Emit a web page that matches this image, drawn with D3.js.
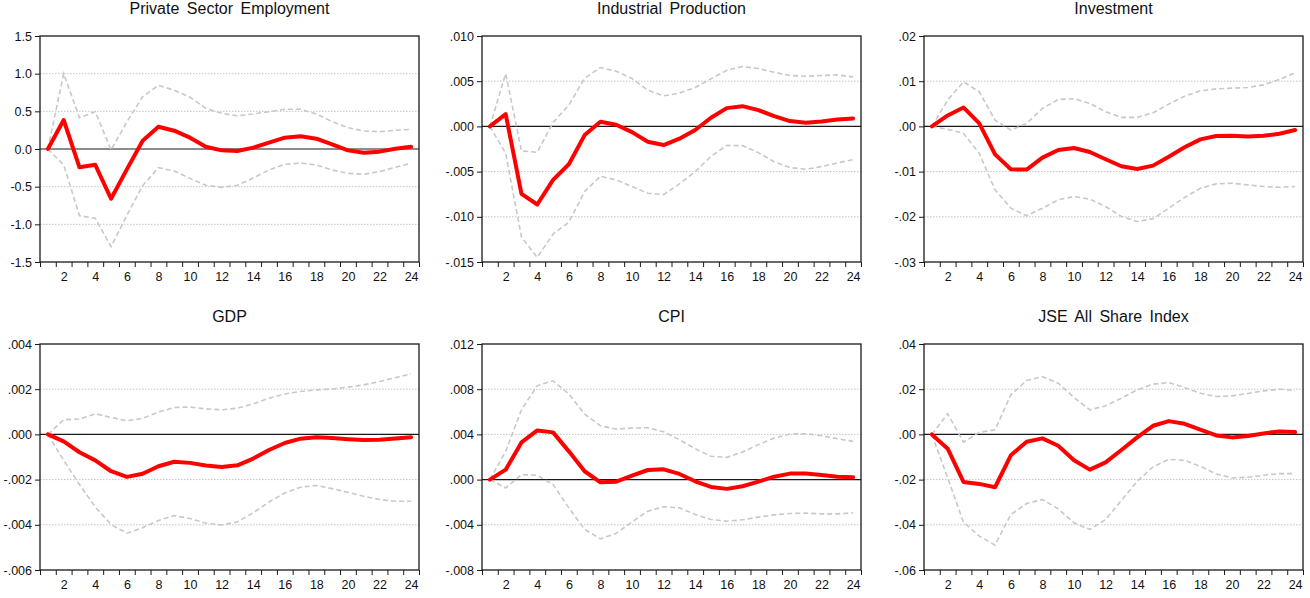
<!DOCTYPE html>
<html>
<head>
<meta charset="utf-8">
<script src="https://cdn.jsdelivr.net/npm/d3@7"></script>
<style>
  html, body { margin: 0; padding: 0; background: #fff; }
  svg { display: block; font-family: "Liberation Sans", Arial, sans-serif; }
</style>
</head>
<body>
<svg id="chart" width="1310" height="598"></svg>
<script>
// Impulse responses over 24 periods: point estimate with upper and lower bands.
const periods = d3.range(1, 25);
const xLabels = [2, 4, 6, 8, 10, 12, 14, 16, 18, 20, 22, 24];

const titles = ["Private Sector Employment", "Industrial Production", "Investment",
                "GDP", "CPI", "JSE All Share Index"];

// Private Sector Employment
const employmentIRF   = [0, 0.385, -0.243, -0.21, -0.66, -0.27, 0.11, 0.296, 0.243, 0.15, 0.03, -0.018,
                         -0.027, 0.018, 0.084, 0.15, 0.17, 0.137, 0.062, -0.018, -0.05, -0.035, 0.004, 0.03];
const employmentUpper = [0, 1.0, 0.416, 0.495, -0.013, 0.36, 0.695, 0.845, 0.78, 0.686, 0.54, 0.473,
                         0.44, 0.465, 0.495, 0.527, 0.527, 0.465, 0.363, 0.283, 0.239, 0.23, 0.248, 0.26];
const employmentLower = [0, -0.212, -0.885, -0.92, -1.296, -0.88, -0.487, -0.248, -0.292, -0.39, -0.482, -0.509,
                         -0.482, -0.385, -0.279, -0.204, -0.186, -0.212, -0.279, -0.323, -0.336, -0.3, -0.243, -0.19];
const employmentTicks = [-1.5, -1.0, -0.5, 0.0, 0.5, 1.0, 1.5];
const employmentTickLabels = ["-1.5", "-1.0", "-0.5", "0.0", "0.5", "1.0", "1.5"];

// Industrial Production
const productionIRF   = [0, 0.00136, -0.00746, -0.00864, -0.00592, -0.00419, -0.00096, 0.00051, 0.00018, -0.00063, -0.00169, -0.00206,
                         -0.00136, -0.0004, 0.00096, 0.00202, 0.00224, 0.0018, 0.00114, 0.00059, 0.0004, 0.00055, 0.00077, 0.00088];
const productionUpper = [0, 0.00585, -0.00272, -0.00287, 0.00044, 0.00235, 0.00533, 0.00651, 0.0061, 0.00529, 0.004, 0.00338,
                         0.00368, 0.0043, 0.00526, 0.00621, 0.00662, 0.0064, 0.00599, 0.00563, 0.00555, 0.00563, 0.0057, 0.00548];
const productionLower = [0, -0.00298, -0.01224, -0.01449, -0.01191, -0.01059, -0.0072, -0.00551, -0.00592, -0.00665, -0.00739, -0.00754,
                         -0.00636, -0.005, -0.00331, -0.0021, -0.00213, -0.0029, -0.0039, -0.00456, -0.00474, -0.00445, -0.00404, -0.00368];
const productionTicks = [-0.015, -0.010, -0.005, 0, 0.005, 0.010];
const productionTickLabels = ["-.015", "-.010", "-.005", ".000", ".005", ".010"];

// Investment
const investmentIRF   = [0, 0.00243, 0.00419, 0.00066, -0.00618, -0.00949, -0.00956, -0.00691, -0.00522, -0.00478, -0.00566, -0.00728,
                         -0.00882, -0.00941, -0.00868, -0.00669, -0.00463, -0.00287, -0.00213, -0.00206, -0.00221, -0.00206, -0.00162, -0.00081];
const investmentUpper = [0, 0.00581, 0.00985, 0.00765, 0.0014, -0.00081, 0.00066, 0.00397, 0.00596, 0.0061, 0.00507, 0.00324,
                         0.00199, 0.00199, 0.00301, 0.00493, 0.00669, 0.00787, 0.00831, 0.00846, 0.0086, 0.00919, 0.01037, 0.01184];
const investmentLower = [0, -0.00066, -0.00154, -0.00596, -0.01404, -0.01809, -0.01978, -0.01809, -0.01625, -0.01551, -0.0161, -0.01772,
                         -0.01993, -0.02103, -0.02044, -0.01809, -0.01574, -0.01368, -0.01272, -0.01257, -0.01294, -0.01331, -0.01346, -0.01331];
const investmentTicks = [-0.03, -0.02, -0.01, 0, 0.01, 0.02];
const investmentTickLabels = ["-.03", "-.02", "-.01", ".00", ".01", ".02"];

// GDP
const gdpIRF   = [0, -0.00031, -0.00079, -0.00115, -0.00163, -0.00188, -0.00174, -0.00141, -0.00121, -0.00126, -0.00138, -0.00144,
                  -0.00137, -0.00107, -0.00069, -0.00038, -0.00019, -0.00013, -0.00016, -0.00021, -0.00025, -0.00024, -0.00018, -0.00013];
const gdpUpper = [0, 0.00065, 0.00068, 0.00091, 0.00075, 0.0006, 0.00071, 0.00099, 0.00119, 0.00121, 0.00113, 0.00109,
                  0.00116, 0.00135, 0.0016, 0.00179, 0.0019, 0.00197, 0.00201, 0.00209, 0.00219, 0.00234, 0.00251, 0.00268];
const gdpLower = [0, -0.00115, -0.00222, -0.00321, -0.00399, -0.00437, -0.00413, -0.00381, -0.00359, -0.00372, -0.00393, -0.00401,
                  -0.00387, -0.00347, -0.00299, -0.00259, -0.00234, -0.00226, -0.0024, -0.00256, -0.00274, -0.00288, -0.00296, -0.00296];
const gdpTicks = [-0.006, -0.004, -0.002, 0, 0.002, 0.004];
const gdpTickLabels = ["-.006", "-.004", "-.002", ".000", ".002", ".004"];

// CPI
const cpiIRF   = [0, 0.00088, 0.00329, 0.00435, 0.00418, 0.0025, 0.00074, -0.00024, -0.00018, 0.00035, 0.00085, 0.00091,
                  0.0005, -0.00015, -0.00065, -0.00082, -0.00059, -0.00018, 0.00026, 0.00053, 0.00053, 0.00041, 0.00026, 0.00021];
const cpiUpper = [0, 0.0025, 0.00618, 0.00832, 0.00874, 0.00759, 0.00579, 0.00476, 0.00447, 0.00456, 0.00459, 0.00424,
                  0.00353, 0.00274, 0.00206, 0.00197, 0.00244, 0.00309, 0.00368, 0.00403, 0.00406, 0.00388, 0.00362, 0.00338];
const cpiLower = [0, -0.00074, 0.00044, 0.00038, -0.00044, -0.0025, -0.00441, -0.00524, -0.00476, -0.00374, -0.00279, -0.00241,
                  -0.0025, -0.00309, -0.00353, -0.00368, -0.00356, -0.00332, -0.00312, -0.003, -0.00297, -0.00303, -0.00303, -0.00294];
const cpiTicks = [-0.008, -0.004, 0, 0.004, 0.008, 0.012];
const cpiTickLabels = ["-.008", "-.004", ".000", ".004", ".008", ".012"];

// JSE All Share Index
const jseIRF   = [0, -0.00632, -0.02103, -0.02191, -0.02338, -0.00926, -0.00324, -0.00176, -0.005, -0.01147, -0.01559, -0.01235,
                  -0.00691, -0.00132, 0.00382, 0.00588, 0.00471, 0.00206, -0.00044, -0.00132, -0.00074, 0.00044, 0.00132, 0.00103];
const jseUpper = [0, 0.00912, -0.00338, 0.00088, 0.00206, 0.0175, 0.02382, 0.02559, 0.02265, 0.01632, 0.01088, 0.01265,
                  0.01603, 0.01971, 0.02221, 0.02294, 0.02074, 0.01824, 0.01676, 0.01706, 0.01809, 0.01926, 0.02, 0.01941];
const jseLower = [0, -0.01926, -0.03882, -0.045, -0.04897, -0.03544, -0.03059, -0.02882, -0.03294, -0.03912, -0.04206, -0.03765,
                  -0.02926, -0.02074, -0.01441, -0.01103, -0.01147, -0.01412, -0.0175, -0.01926, -0.01897, -0.01809, -0.01735, -0.01735];
const jseTicks = [-0.06, -0.04, -0.02, 0, 0.02, 0.04];
const jseTickLabels = ["-.06", "-.04", "-.02", ".00", ".02", ".04"];

const panels = [
  { title: titles[0], irf: employmentIRF, upper: employmentUpper, lower: employmentLower, ticks: employmentTicks, labels: employmentTickLabels },
  { title: titles[1], irf: productionIRF, upper: productionUpper, lower: productionLower, ticks: productionTicks, labels: productionTickLabels },
  { title: titles[2], irf: investmentIRF, upper: investmentUpper, lower: investmentLower, ticks: investmentTicks, labels: investmentTickLabels },
  { title: titles[3], irf: gdpIRF, upper: gdpUpper, lower: gdpLower, ticks: gdpTicks, labels: gdpTickLabels },
  { title: titles[4], irf: cpiIRF, upper: cpiUpper, lower: cpiLower, ticks: cpiTicks, labels: cpiTickLabels },
  { title: titles[5], irf: jseIRF, upper: jseUpper, lower: jseLower, ticks: jseTicks, labels: jseTickLabels }
];

// Plot-area frames for the 3x2 grid
const colX = [[40, 419], [482, 861], [924, 1303]];
const rowY = [[36, 262], [344, 570]];

const svg = d3.select("#chart");

panels.forEach((p, idx) => {
  const [x0, x1] = colX[idx % 3];
  const [y0, y1] = rowY[Math.floor(idx / 3)];

  const x = d3.scaleLinear().domain([0.5, 24.5]).range([x0, x1]);
  const y = d3.scaleLinear().domain(d3.extent(p.ticks)).range([y1, y0]);

  const g = svg.append("g");

  // dotted horizontal grid
  g.selectAll("line.grid")
    .data(p.ticks.filter(t => t !== 0 && t !== d3.min(p.ticks) && t !== d3.max(p.ticks)))
    .join("line")
    .attr("class", "grid")
    .attr("x1", x0).attr("x2", x1)
    .attr("y1", d => y(d)).attr("y2", d => y(d))
    .attr("stroke", "#c4c4c4")
    .attr("stroke-width", 1)
    .attr("stroke-dasharray", "1.5,1.5");

  // zero line
  g.append("line")
    .attr("x1", x0).attr("x2", x1)
    .attr("y1", y(0)).attr("y2", y(0))
    .attr("stroke", "#1a1a1a").attr("stroke-width", 1.2);

  // frame
  g.append("rect")
    .attr("x", x0).attr("y", y0)
    .attr("width", x1 - x0).attr("height", y1 - y0)
    .attr("fill", "none").attr("stroke", "#1a1a1a").attr("stroke-width", 1.3);

  const line = d3.line().x((d, i) => x(periods[i])).y(d => y(d));

  // confidence bands
  [p.upper, p.lower].forEach(band => {
    g.append("path")
      .datum(band)
      .attr("d", line)
      .attr("fill", "none")
      .attr("stroke", "#c8c8c8")
      .attr("stroke-width", 1.6)
      .attr("stroke-dasharray", "5,3");
  });

  // point estimate
  g.append("path")
    .datum(p.irf)
    .attr("d", line)
    .attr("fill", "none")
    .attr("stroke", "#ff0000")
    .attr("stroke-width", 4)
    .attr("stroke-linejoin", "round")
    .attr("stroke-linecap", "round");

  // y axis
  const yAxis = d3.axisLeft(y)
    .tickValues(p.ticks)
    .tickFormat((d, i) => p.labels[i])
    .tickSize(5)
    .tickPadding(3);
  const ya = g.append("g").attr("transform", `translate(${x0},0)`).call(yAxis);
  ya.select(".domain").remove();
  ya.selectAll("line").attr("stroke", "#1a1a1a");
  ya.selectAll("text").attr("font-size", 12.5).attr("fill", "#111")
    .attr("font-family", "'Liberation Sans', Arial, sans-serif");

  // x axis: ticks between periods, labels on even periods
  const xTickAxis = d3.axisBottom(x)
    .tickValues(d3.range(0.5, 25, 1))
    .tickFormat("")
    .tickSize(5);
  const xa = g.append("g").attr("transform", `translate(0,${y1})`).call(xTickAxis);
  xa.select(".domain").remove();
  xa.selectAll("line").attr("stroke", "#1a1a1a");

  const xLabelAxis = d3.axisBottom(x)
    .tickValues(xLabels)
    .tickFormat(d3.format("d"))
    .tickSize(0)
    .tickPadding(10);
  const xl = g.append("g").attr("transform", `translate(0,${y1})`).call(xLabelAxis);
  xl.select(".domain").remove();
  xl.selectAll("text").attr("font-size", 12.5).attr("fill", "#111")
    .attr("font-family", "'Liberation Sans', Arial, sans-serif");

  // title
  g.append("text")
    .attr("x", (x0 + x1) / 2)
    .attr("y", y0 - 22)
    .attr("text-anchor", "middle")
    .attr("font-size", 16)
    .attr("word-spacing", 3)
    .attr("fill", "#111")
    .text(p.title);
});
</script>
</body>
</html>
